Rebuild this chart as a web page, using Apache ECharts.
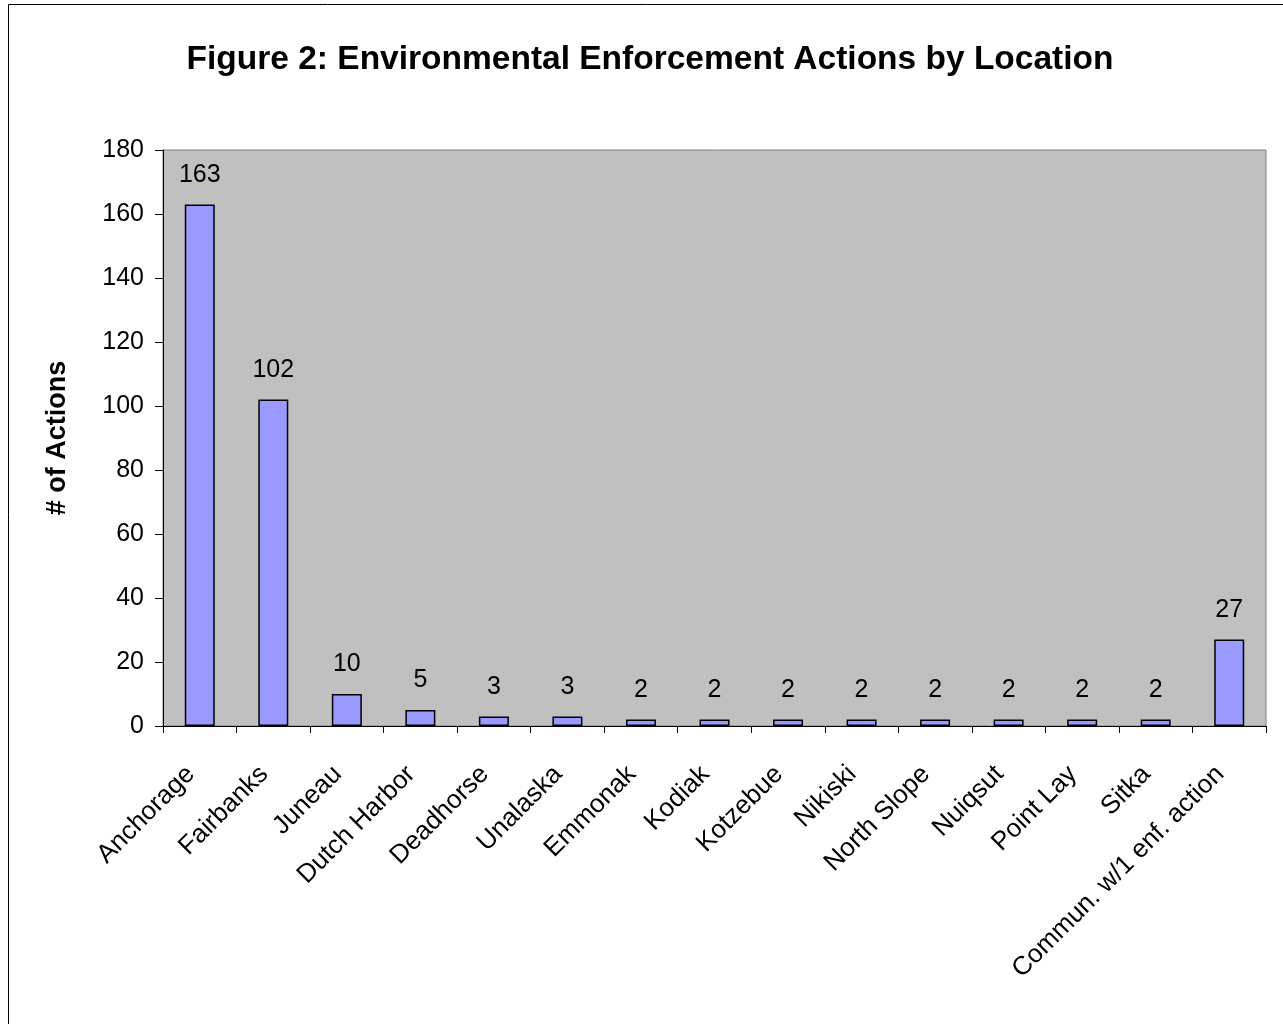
<!DOCTYPE html>
<html>
<head>
<meta charset="utf-8">
<script src="https://cdn.jsdelivr.net/npm/echarts@6/dist/echarts.min.js"></script>
<style>
  html, body { margin: 0; padding: 0; background: #fff; }
  #chart { width: 1283px; height: 1024px; }
</style>
</head>
<body>
<div id="chart"></div>
<script>
// Enforcement actions per location
const locations = ['Anchorage', 'Fairbanks', 'Juneau', 'Dutch Harbor', 'Deadhorse', 'Unalaska',
  'Emmonak', 'Kodiak', 'Kotzebue', 'Nikiski', 'North Slope', 'Nuiqsut', 'Point Lay', 'Sitka',
  'Commun. w/1 enf. action'];
const actions = [163, 102, 10, 5, 3, 3, 2, 2, 2, 2, 2, 2, 2, 2, 27];
const yTicks = { min: 0, max: 180, interval: 20 };

const FONT = '"Liberation Sans", Arial, sans-serif';
const chart = echarts.init(document.getElementById('chart'), null, { renderer: 'canvas' });

chart.setOption({
  backgroundColor: '#ffffff',
  animation: false,
  title: {
    text: 'Figure 2: Environmental Enforcement Actions by Location',
    left: 645, top: 38, textAlign: 'center',
    textStyle: { fontFamily: FONT, fontSize: 33.5, fontWeight: 'bold', color: '#000' }
  },
  graphic: [{
    type: 'rect', silent: true,
    shape: { x: 8.5, y: 4.5, width: 1300, height: 1100 },
    style: { fill: 'none', stroke: '#000', lineWidth: 1 }
  }],
  grid: {
    left: 163, top: 150, right: 17, bottom: 298,
    show: true, backgroundColor: '#C0C0C0', borderColor: '#808080', borderWidth: 1
  },
  xAxis: {
    type: 'category',
    data: locations,
    axisLine: { show: true, lineStyle: { color: '#000', width: 1 } },
    axisTick: { show: true, alignWithLabel: false, length: 7, lineStyle: { color: '#000' } },
    axisLabel: {
      interval: 0, rotate: 45, margin: 35,
      padding: [0, 13, 0, 0],
      fontFamily: FONT, fontSize: 26, color: '#000'
    },
    splitLine: { show: false }
  },
  yAxis: {
    type: 'value',
    min: yTicks.min, max: yTicks.max, interval: yTicks.interval,
    name: '# of Actions',
    nameLocation: 'middle', nameGap: 92, nameRotate: 90,
    nameTextStyle: { fontFamily: FONT, fontSize: 27, fontWeight: 'bold', color: '#000' },
    axisLine: { show: true, lineStyle: { color: '#000', width: 1 } },
    axisTick: { show: true, length: 8, lineStyle: { color: '#000' } },
    axisLabel: { margin: 19, fontFamily: FONT, fontSize: 25, color: '#000' },
    splitLine: { show: false }
  },
  series: [{
    type: 'bar',
    data: actions,
    barWidth: 30,
    itemStyle: { color: '#9999FF', borderColor: '#000', borderWidth: 1.5 },
    label: {
      show: true, position: 'top', distance: 17,
      fontFamily: FONT, fontSize: 25, color: '#000'
    }
  }]
});
</script>
</body>
</html>
